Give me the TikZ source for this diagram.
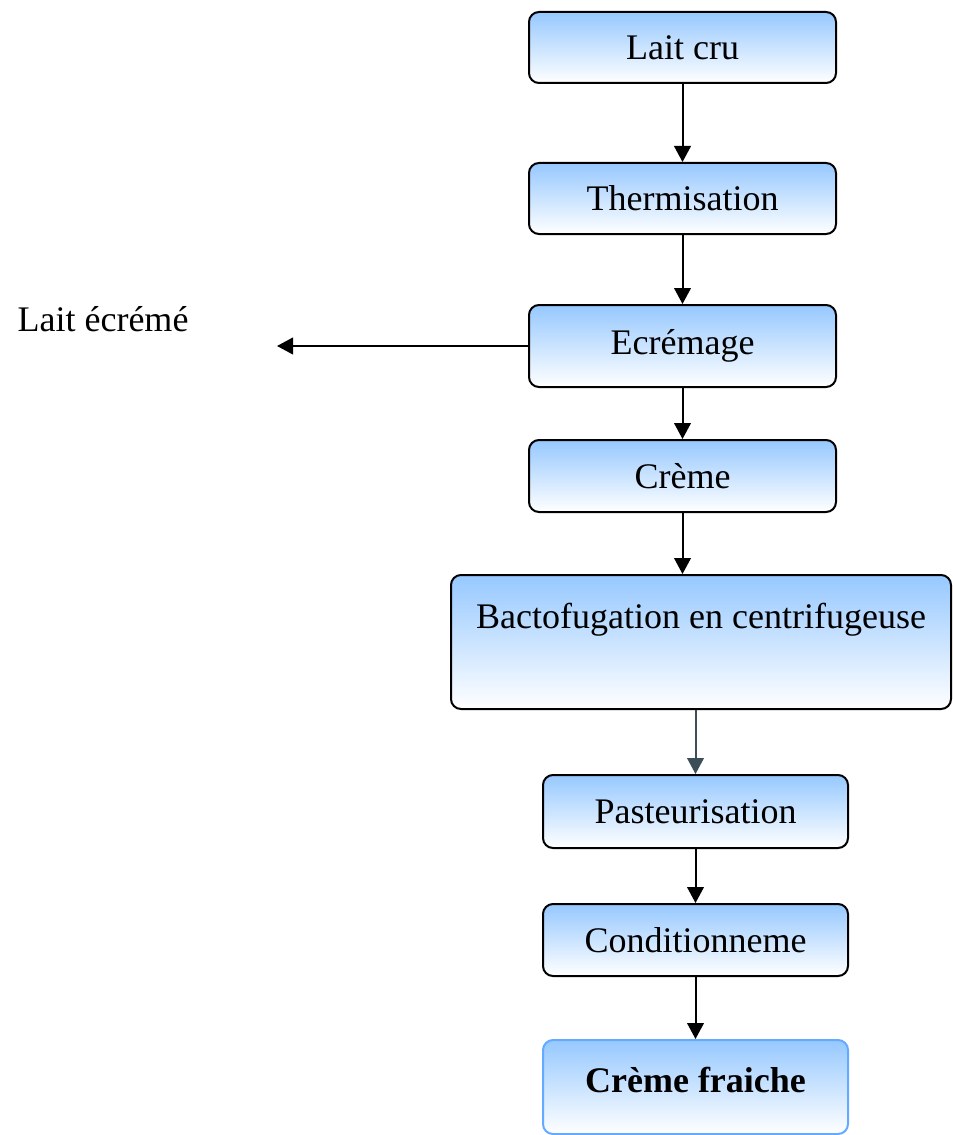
\documentclass[tikz,border=0pt]{standalone}
\usepackage{fontspec}
\setmainfont{Liberation Serif}
\usetikzlibrary{arrows.meta}
\definecolor{boxblue}{RGB}{150,200,255}
\definecolor{cfborder}{RGB}{100,170,255}
\definecolor{slate}{RGB}{60,78,88}
\tikzset{
  box/.style={draw=black, line width=0.6pt, rounded corners=3pt,
    top color=boxblue, bottom color=white, inner sep=0pt,
    font=\fontsize{10.8}{13}\selectfont},
  conn/.style={line width=0.6pt, -{Triangle[length=4.8pt,width=5pt]}},
  plain/.style={font=\fontsize{10.8}{13}\selectfont, inner sep=0pt}
}
\begin{document}
\begin{tikzpicture}[x=0.3pt,y=-0.3pt]
\useasboundingbox (0,0) rectangle (952,1135);
\node[box, minimum width=92.1pt, minimum height=21.3pt] (lait) at (682.5,47.5) {Lait cru};
\node[box, minimum width=92.1pt, minimum height=21.3pt] (therm) at (682.5,198.5) {Thermisation};
\node[box, minimum width=92.1pt, minimum height=24.6pt] (ecre) at (682.5,346) {Ecrémage};
\node[box, minimum width=92.1pt, minimum height=21.6pt] (creme) at (682.5,476) {Crème};
\node[box, minimum width=150pt, minimum height=40.2pt, text height=8pt, text depth=16pt] (bacto) at (701,642) {Bactofugation en centrifugeuse};
\node[box, minimum width=91.5pt, minimum height=21.9pt] (past) at (695.5,811.5) {Pasteurisation};
\node[box, minimum width=91.5pt, minimum height=21.6pt] (cond) at (695.5,940) {Conditionneme};
\node[box, draw=cfborder, minimum width=91.5pt, minimum height=28.2pt, text height=8pt, text depth=5pt, font=\fontsize{10.8}{13}\selectfont\bfseries] (cf) at (695.5,1087) {Crème fraiche};
\node[plain] (skimlabel) at (103,319) {Lait écrémé};
\coordinate (skim) at (277,346);
\draw[conn] (lait) -- (therm);
\draw[conn] (therm) -- (ecre);
\draw[conn] (ecre) -- (creme);
\draw[conn] (creme.south) -- (creme.south |- bacto.north);
\draw[conn, draw=slate] (past.north |- bacto.south) -- (past.north);
\draw[conn] (past) -- (cond);
\draw[conn] (cond) -- (cf);
\draw[conn] (ecre.west) -- (skim);
\end{tikzpicture}
\end{document}
